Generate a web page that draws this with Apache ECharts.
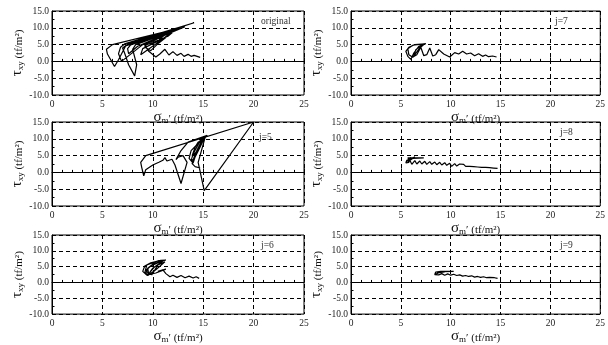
<!DOCTYPE html>
<html><head><meta charset="utf-8">
<script src="https://cdn.jsdelivr.net/npm/echarts@6/dist/echarts.min.js"></script>
<style>html,body{margin:0;padding:0;background:#fff}#c{width:608px;height:345px}</style>
</head><body><div id="c"></div>
<script>
const xTicks = [0, 5, 10, 15, 20, 25];
const yTicks = [-10, -5, 0, 5, 10, 15];
const panelLabels = ['original', 'j=5', 'j=6', 'j=7', 'j=8', 'j=9'];

const original = [[14.7,1.2],[14.4,1.5],[14.1,1.8],[13.8,1.5],[13.5,2.1],[13.1,1.5],[12.8,2.4],[12.4,1.8],[12.0,2.9],[11.6,1.9],[11.2,3.6],[10.7,2.2],[10.3,1.3],[9.6,3.0],[9.2,4.8],[10.0,5.6],[11.5,7.5],[12.3,9.5],[10.6,5.5],[9.8,3.2],[9.2,4.3],[9.6,5.8],[13.2,10.3],[8.3,5.0],[8.0,3.6],[8.4,-1.0],[8.2,-4.3],[7.6,-1.0],[7.2,2.5],[7.0,4.0],[7.6,5.3],[14.1,11.5],[7.2,5.2],[6.8,4.2],[6.6,2.3],[6.9,0.0],[9.0,5.0],[10.0,6.0],[12.5,9.8],[6.0,5.0],[5.4,3.6],[5.5,2.2],[6.2,-1.5],[6.6,0.5],[7.3,4.6],[12.8,10.0],[7.8,4.9],[7.5,3.8],[7.6,2.3],[8.5,4.5],[11.2,8.0],[10.5,6.0],[9.0,3.8],[8.8,2.0],[10.3,5.2],[12.0,9.0]];

const j5 = [[14.7,1.3],[14.2,1.7],[13.9,2.6],[14.2,5.5],[14.7,8.5],[15.0,10.0],[14.6,8.8],[14.0,5.5],[13.8,3.5],[14.1,4.0],[14.6,7.0],[15.0,9.5],[15.3,10.8],[14.8,9.8],[14.2,7.5],[13.9,5.0],[14.3,6.0],[14.9,9.0],[15.2,10.5],[14.5,3.0],[15.1,-5.4],[20.0,15.0],[9.3,5.0],[8.8,3.0],[8.9,1.5],[9.1,-1.0],[9.3,0.8],[10.0,2.2],[10.6,3.0],[11.0,3.6],[11.2,4.4],[11.4,3.4],[11.9,3.9],[12.2,2.2],[12.8,-3.3],[13.4,3.0],[13.0,5.0],[12.5,4.5],[12.3,3.8],[12.8,6.5],[13.5,9.0],[15.4,11.0],[14.3,8.0],[13.8,6.5],[13.6,4.2],[14.0,2.8],[14.4,6.5],[15.1,10.2],[14.5,9.0],[14.1,7.0]];

const j6 = [[14.6,1.3],[14.3,1.8],[14.0,1.4],[13.6,2.0],[13.2,1.5],[12.8,2.2],[12.4,1.6],[12.0,2.3],[11.7,1.8],[11.3,2.8],[11.0,4.0],[10.5,3.5],[11.3,4.2],[10.3,3.0],[9.4,2.3],[9.0,3.5],[9.2,5.2],[9.8,6.2],[10.8,7.0],[11.3,7.1],[10.2,6.0],[9.5,4.5],[9.3,2.8],[9.6,2.5],[9.5,4.5],[10.0,5.8],[11.0,6.8],[10.0,4.5],[9.7,3.2],[9.9,2.4],[10.5,5.5],[11.2,6.5],[10.3,4.0],[9.5,2.2],[9.2,3.0],[9.4,5.5],[10.6,6.9],[11.1,7.0],[9.8,5.2],[9.3,3.8],[9.6,2.8],[10.2,5.0],[10.9,6.4]];

const j7 = [[14.6,1.3],[14.2,1.6],[13.8,1.4],[13.5,1.9],[13.2,1.5],[12.8,2.3],[12.4,1.7],[12.0,2.5],[11.6,2.2],[11.2,3.0],[10.8,2.2],[10.4,2.6],[9.9,1.3],[9.3,2.2],[8.8,3.5],[8.5,2.0],[8.2,1.6],[7.9,4.0],[7.6,2.0],[7.3,1.7],[7.0,4.2],[6.6,2.0],[6.3,1.5],[6.5,3.5],[7.0,4.6],[7.4,5.2],[7.6,5.4],[6.4,5.0],[5.8,4.2],[5.5,3.0],[5.7,1.5],[6.0,0.6],[6.3,2.5],[6.8,4.5],[7.5,5.3],[6.2,4.8],[5.7,3.8],[5.8,2.0],[6.2,1.2],[6.9,4.0],[7.3,5.0]];

const j8 = [[14.7,1.2],[14.5,1.6],[14.3,1.3],[14.1,1.7],[13.9,1.4],[13.7,1.8],[13.5,1.5],[13.3,1.9],[13.1,1.5],[12.9,2.0],[12.7,1.6],[12.5,2.1],[12.3,1.7],[12.1,2.2],[11.9,1.8],[11.7,2.3],[11.5,1.8],[11.3,2.4],[11.1,1.9],[10.9,2.5],[10.6,1.9],[10.4,2.6],[10.1,1.8],[9.9,2.7],[9.6,2.1],[9.4,2.9],[9.1,2.2],[8.9,3.0],[8.6,2.3],[8.4,3.1],[8.1,2.4],[7.9,3.2],[7.6,2.4],[7.4,3.3],[7.1,2.5],[6.9,3.4],[6.6,2.5],[6.4,3.5],[6.1,2.4],[5.9,3.6],[5.7,4.3],[6.3,4.4],[7.3,4.3],[6.2,4.2],[5.6,3.6],[5.5,2.8],[5.8,3.0],[6.0,4.5],[5.7,3.2],[5.6,2.7],[6.0,3.8],[6.4,4.6],[5.8,4.0],[5.5,3.0]];

const j9 = [[14.7,1.3],[14.4,1.5],[14.2,1.4],[13.9,1.6],[13.6,1.5],[13.3,1.8],[13.0,1.6],[12.7,1.9],[12.4,1.7],[12.1,2.1],[11.8,1.9],[11.5,2.2],[11.2,2.0],[10.9,2.4],[10.6,2.2],[10.3,2.6],[10.0,2.3],[9.7,2.7],[9.4,2.3],[9.1,2.8],[8.8,2.4],[8.6,2.9],[8.4,2.5],[8.5,3.3],[9.0,3.5],[10.3,3.5],[9.2,3.4],[8.6,3.2],[8.4,2.7],[8.7,3.0],[9.4,3.3],[8.8,3.1],[8.5,2.6]];

const panelData = [original, j5, j6, j7, j8, j9];
const grids = [
  {left: 52, top: 11, width: 252, height: 84},
  {left: 52, top: 122, width: 252, height: 84},
  {left: 52, top: 235, width: 252, height: 84},
  {left: 351, top: 11, width: 251, height: 84},
  {left: 351, top: 122, width: 251, height: 84},
  {left: 351, top: 235, width: 251, height: 84}
];
const labelPos = [[261, 22], [259, 138], [261, 246], [555, 22], [560, 133], [560, 246]];

const FONT = '"Liberation Serif", "Times New Roman", serif';
const xAxes = [], yAxes = [], series = [], graphics = [];
grids.forEach((g, i) => {
  xAxes.push({
    type: 'value', gridIndex: i, min: xTicks[0], max: xTicks[xTicks.length - 1], interval: 5,
    axisLine: {lineStyle: {color: '#000', width: 1}},
    axisTick: {inside: true, length: 4, lineStyle: {color: '#000'}},
    minorTick: {show: true, splitNumber: 5, length: 2.5, lineStyle: {color: '#000'}},
    splitLine: {show: true, lineStyle: {color: '#000', type: [4, 3], width: 1}},
    axisLabel: {fontFamily: FONT, fontSize: 9.5, color: '#222', margin: 4},
    name: '{s|σ}{m|m}{n|\u2032 (tf/m²)}', nameLocation: 'middle', nameGap: 12,
    nameTextStyle: {rich: {
      s: {fontFamily: FONT, fontSize: 15, color: '#111', verticalAlign: 'bottom'},
      m: {fontFamily: FONT, fontSize: 9, color: '#111', verticalAlign: 'bottom'},
      n: {fontFamily: FONT, fontSize: 11, color: '#111', verticalAlign: 'bottom'}
    }}
  });
  yAxes.push({
    type: 'value', gridIndex: i, min: yTicks[0], max: yTicks[yTicks.length - 1], interval: 5,
    axisLine: {lineStyle: {color: '#000', width: 1}},
    axisTick: {inside: true, length: 4, lineStyle: {color: '#000'}},
    minorTick: {show: true, splitNumber: 2, length: 2.5, lineStyle: {color: '#000'}},
    splitLine: {show: true, lineStyle: {color: '#000', type: [4, 3], width: 1}},
    axisLabel: {fontFamily: FONT, fontSize: 9.5, color: '#222', margin: 3, formatter: v => v.toFixed(1)},
    name: '{t|τ}{x|xy}{n| (tf/m²)}', nameLocation: 'middle', nameGap: 27, nameRotate: 90,
    nameTextStyle: {rich: {
      t: {fontFamily: FONT, fontSize: 15, color: '#111', verticalAlign: 'bottom'},
      x: {fontFamily: FONT, fontSize: 9, color: '#111', verticalAlign: 'bottom'},
      n: {fontFamily: FONT, fontSize: 11, color: '#111', verticalAlign: 'bottom'}
    }}
  });
  series.push({
    type: 'line', xAxisIndex: i, yAxisIndex: i, data: panelData[i],
    showSymbol: false, symbol: 'none', smooth: false,
    lineStyle: {color: '#000', width: 1.2}, animation: false, z: 5
  });
  graphics.push({
    type: 'text', left: labelPos[i][0], top: labelPos[i][1] - 6,
    style: {text: panelLabels[i], font: '9.5px ' + FONT, fill: '#333'}
  });
});

const chart = echarts.init(document.getElementById('c'), null, {renderer: 'canvas'});
chart.setOption({
  animation: false,
  backgroundColor: '#fff',
  grid: grids.map(g => Object.assign({show: true, borderColor: '#000', borderWidth: 1, backgroundColor: 'transparent'}, g)),
  xAxis: xAxes, yAxis: yAxes, series: series, graphic: graphics
});
</script>
</body></html>
